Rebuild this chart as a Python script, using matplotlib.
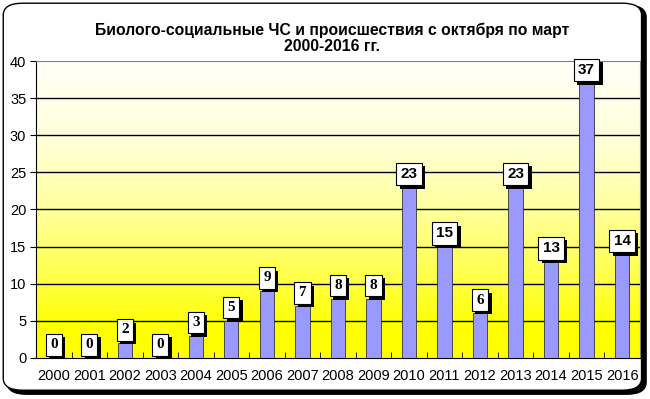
import numpy as np
import matplotlib.pyplot as plt
from matplotlib.patches import FancyBboxPatch
from matplotlib import patheffects as pe

years = ['2000', '2001', '2002', '2003', '2004', '2005', '2006', '2007', '2008',
         '2009', '2010', '2011', '2012', '2013', '2014', '2015', '2016']
counts = [0, 0, 2, 0, 3, 5, 9, 7, 8, 8, 23, 15, 6, 23, 13, 37, 14]
title = 'Биолого-социальные ЧС и происшествия с октября по март\n2000-2016 гг.'

plt.rcParams['font.family'] = ['Liberation Sans', 'DejaVu Sans']

fig = plt.figure(figsize=(6.5, 3.99), dpi=100)
fig.patch.set_facecolor('white')

# rounded frame with a shadow on the bottom/right
shadow = FancyBboxPatch((0.011, 0.012), 0.983, 0.975, boxstyle='round,pad=0,rounding_size=0.03',
                        transform=fig.transFigure, facecolor='black', edgecolor='black', zorder=0)
frame = FancyBboxPatch((0.005, 0.022), 0.982, 0.97, boxstyle='round,pad=0,rounding_size=0.03',
                       transform=fig.transFigure, facecolor='white', edgecolor='black', lw=1, zorder=0.5)
fig.patches.extend([shadow, frame])

ax = fig.add_axes([0.0554, 0.1028, 0.929, 0.7443])
ax.set_zorder(2)

# background gradient: white at top, yellow at bottom
vals = np.linspace(0, 40, 200)
blue = np.interp(vals, [0, 4, 10, 20, 30, 40], [0, 0, 0.25, 0.62, 0.86, 0.97])
grad = np.ones((200, 1, 3))
grad[:, 0, 2] = blue
x = np.arange(len(years))
ax.imshow(grad, extent=(-0.5, len(years) - 0.5, 0, 40), origin='lower', aspect='auto', zorder=0)

ax.set_xlim(-0.5, len(years) - 0.5)
ax.set_ylim(0, 40)
ax.set_yticks(range(0, 41, 5))
for lv in range(5, 36, 5):
    ax.axhline(lv, color='black', lw=1, zorder=1)

ax.bar(x, counts, width=0.4, color='#9999FF', edgecolor='#333333', lw=0.6, zorder=3)

ax.set_xticks(x)
ax.set_xticklabels(years)
ax.set_xticks(np.arange(-0.5, len(years), 1), minor=True)
ax.tick_params(axis='x', which='major', length=0, pad=8, labelsize=10.5)
ax.tick_params(axis='x', which='minor', length=4, direction='in')
ax.tick_params(axis='y', length=4, labelsize=10.5, pad=3)

for s in ['top', 'right']:
    ax.spines[s].set_color('#808080')
for s in ['left', 'bottom']:
    ax.spines[s].set_color('black')

for xi, c in zip(x, counts):
    fam = 'Liberation Serif' if c < 10 else 'Liberation Sans'
    t = ax.annotate(str(c), (xi, c), xytext=(0, 9.5), textcoords='offset points',
                    ha='center', va='center', fontsize=11, fontweight='bold', family=fam,
                    bbox=dict(boxstyle='square,pad=0.28', fc='white', ec='black', lw=0.8),
                    zorder=5)
    t.get_bbox_patch().set_path_effects([
        pe.withSimplePatchShadow(offset=(2.5, -2.5), shadow_rgbFace='black', alpha=1)])

fig.text(0.511, 0.905, title, ha='center', va='center', fontsize=11.3,
         fontweight='bold', linespacing=1.1)

fig.savefig('out.png', dpi=100)
